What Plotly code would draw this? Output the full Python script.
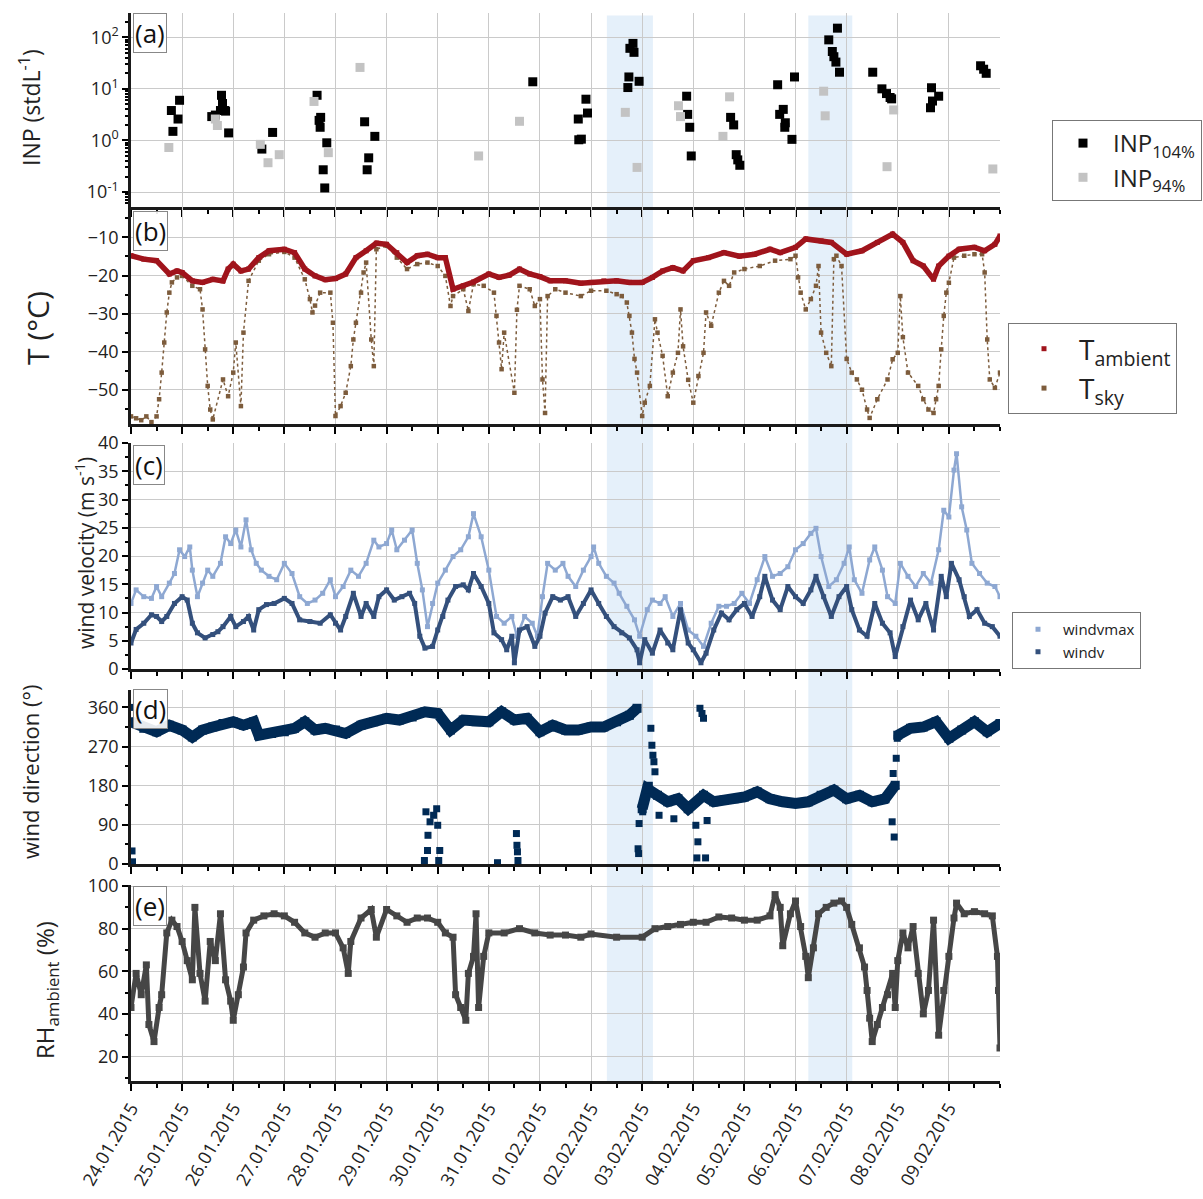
import pandas as pd
import plotly.graph_objects as go

# ---------------- data (time in days since 24.01.2015 00:00) ----------------
START = pd.Timestamp("2015-01-24")
tick_labels = ["24.01.2015", "25.01.2015", "26.01.2015", "27.01.2015", "28.01.2015",
               "29.01.2015", "30.01.2015", "31.01.2015", "01.02.2015", "02.02.2015",
               "03.02.2015", "04.02.2015", "05.02.2015", "06.02.2015", "07.02.2015",
               "08.02.2015", "09.02.2015"]

# shaded periods (days)
shade_start = [9.31, 13.25]
shade_end = [10.21, 14.11]

# (a) INP
inp104_day = [0.79, 0.82, 0.92, 0.95, 1.58, 1.65, 1.75, 1.77, 1.79, 1.83, 1.85, 1.91,
              2.56, 2.77, 3.64, 3.68, 3.71, 3.70, 3.83, 3.76, 3.79, 4.57, 4.77, 4.65, 4.62,
              7.86, 8.75, 8.76, 8.81, 8.90, 8.93,
              9.82, 9.76, 9.84, 9.74, 9.72, 9.94, 10.87, 10.89, 10.93, 10.96,
              11.73, 11.79, 11.84, 11.87, 11.91, 12.65, 12.98, 12.76, 12.69, 12.80, 12.79, 12.93,
              13.82, 13.65, 13.72, 13.75, 13.79, 13.86, 14.51, 14.69, 14.78, 14.85, 14.88,
              15.66, 15.80, 15.68, 15.64, 16.62, 16.68, 16.73]
inp104_val = [3.8, 1.5, 2.6, 6.0, 2.9, 3.1, 3.8, 7.5, 5.2, 3.8, 3.7, 1.4,
              0.68, 1.43, 7.5, 2.45, 2.8, 1.8, 0.9, 0.27, 0.12, 2.3, 1.2, 0.46, 0.27,
              13.7, 2.6, 1.03, 1.06, 6.3, 3.4,
              76, 61, 51, 17, 10.6, 14, 7.2, 3.2, 1.8, 0.5,
              2.8, 2.0, 0.53, 0.42, 0.33, 12, 17, 4.0, 3.2, 2.2, 1.8, 1.05,
              150, 89, 53, 42, 33, 21, 21, 10, 8.1, 6.8, 6.4,
              10.5, 7.2, 5.8, 4.3, 28, 24, 20]
inp94_day = [0.74, 1.65, 1.69, 2.53, 2.68, 2.90, 3.58, 3.86, 4.48, 6.80, 7.60,
             9.67, 9.90, 10.71, 10.75, 11.71, 11.58, 13.55, 13.58, 14.92, 14.79, 16.86]
inp94_val = [0.73, 2.6, 1.95, 0.84, 0.37, 0.53, 5.7, 0.58, 26, 0.50, 2.35,
             3.5, 0.30, 4.7, 2.9, 7.0, 1.2, 9.0, 3.0, 3.9, 0.31, 0.28]

# (b) temperatures
tamb_day = [0, 0.25, 0.5, 0.75, 0.9, 1.0, 1.2, 1.4, 1.6, 1.8, 1.9, 2.0, 2.15, 2.3, 2.5, 2.7,
            3.0, 3.2, 3.4, 3.6, 3.8, 4.0, 4.2, 4.4, 4.6, 4.8, 5.0, 5.2, 5.4, 5.6, 5.8, 6.0,
            6.15, 6.3, 6.5, 6.7, 7.0, 7.2, 7.4, 7.6, 7.8, 8.0, 8.2, 8.5, 8.8, 9.0, 9.25, 9.5,
            9.75, 10.0, 10.2, 10.4, 10.6, 10.8, 11.0, 11.3, 11.6, 11.9, 12.2, 12.5, 12.7,
            13.0, 13.2, 13.5, 13.7, 14.0, 14.3, 14.6, 14.9, 15.1, 15.3, 15.5, 15.7, 15.8,
            16.0, 16.2, 16.5, 16.7, 16.9, 17.0]
tamb_val = [-14.8, -15.7, -16.1, -19.6, -18.8, -19.2, -21.4, -21.8, -21.0, -21.4, -18.3, -17.0,
            -18.8, -18.3, -15.3, -13.5, -13.1, -14.0, -18.3, -20.1, -21.1, -20.8, -19.6, -15.3,
            -13.5, -11.5, -11.8, -14.0, -16.6, -14.8, -14.4, -15.3, -15.3, -23.6, -22.7, -21.7,
            -19.6, -20.5, -19.9, -18.3, -19.6, -20.3, -21.4, -21.4, -22.0, -21.8, -21.4, -21.4,
            -21.8, -21.8, -20.5, -18.8, -17.9, -18.8, -16.1, -15.3, -14.0, -14.9, -14.4, -13.1,
            -14.0, -12.6, -10.4, -10.9, -11.3, -14.4, -13.5, -11.3, -9.1, -11.3, -16.1, -17.5,
            -21.0, -17.5, -14.9, -13.1, -12.6, -13.5, -11.8, -9.6]
tsky_day = [0.0, 0.1, 0.2, 0.3, 0.4, 0.5, 0.55, 0.6, 0.65, 0.7, 0.75, 0.8, 0.9, 1.0, 1.2, 1.35,
            1.4, 1.45, 1.5, 1.55, 1.6, 1.8, 1.9, 2.0, 2.05, 2.15, 2.2, 2.3, 2.5, 2.7, 3.0, 3.2,
            3.4, 3.5, 3.55, 3.6, 3.7, 3.9, 3.95, 4.0, 4.1, 4.2, 4.3, 4.35, 4.4, 4.5, 4.55, 4.6,
            4.7, 4.75, 4.8, 5.0, 5.2, 5.4, 5.6, 5.8, 6.0, 6.15, 6.25, 6.3, 6.5, 6.6, 6.7, 6.9,
            7.1, 7.15, 7.2, 7.25, 7.3, 7.5, 7.55, 7.6, 7.8, 7.9, 8.0, 8.05, 8.1, 8.15, 8.3, 8.5,
            8.8, 9.0, 9.3, 9.5, 9.6, 9.7, 9.75, 9.8, 9.85, 9.9, 10.0, 10.05, 10.15, 10.25, 10.3,
            10.4, 10.5, 10.6, 10.7, 10.75, 10.8, 10.9, 11.0, 11.1, 11.2, 11.25, 11.35, 11.5,
            11.6, 11.7, 11.8, 12.0, 12.3, 12.6, 12.9, 13.0, 13.05, 13.1, 13.2, 13.3, 13.4,
            13.45, 13.5, 13.6, 13.7, 13.75, 13.8, 13.9, 14.0, 14.1, 14.2, 14.3, 14.4, 14.45,
            14.6, 14.8, 14.9, 15.0, 15.05, 15.1, 15.2, 15.4, 15.5, 15.6, 15.7, 15.75, 15.8,
            15.85, 15.9, 15.95, 16.0, 16.1, 16.3, 16.5, 16.65, 16.7, 16.75, 16.8, 16.9, 17.0]
tsky_val = [-57.0, -57.5, -58.0, -57.0, -58.5, -57.0, -52.5, -45.5, -37.6, -29.7, -24.5, -21.8,
            -20.5, -20.1, -22.7, -23.6, -28.9, -39.4, -49.0, -55.2, -57.8, -47.3, -51.7, -45.5,
            -37.6, -54.3, -35.0, -21.4, -16.1, -14.4, -13.8, -15.3, -21.0, -26.2, -29.7, -27.9,
            -24.5, -24.5, -32.4, -56.9, -54.3, -50.8, -43.8, -36.8, -32.4, -24.5, -19.2, -16.6,
            -36.8, -43.8, -13.1, -12.2, -15.3, -18.3, -17.0, -16.6, -17.5, -20.1, -28.0, -25.4,
            -23.6, -29.3, -22.3, -22.7, -24.5, -30.6, -37.6, -44.6, -35.0, -50.8, -29.0, -22.7,
            -23.6, -28.0, -26.2, -47.3, -56.1, -25.4, -23.6, -24.5, -25.4, -24.0, -24.0, -24.9,
            -25.4, -27.1, -30.6, -35.0, -41.9, -45.5, -56.9, -53.4, -49.0, -31.5, -35.0, -41.1,
            -51.7, -45.5, -40.3, -28.9, -38.6, -47.4, -53.4, -46.4, -40.3, -29.7, -33.2, -24.5,
            -21.4, -22.7, -19.2, -18.3, -17.5, -16.1, -15.7, -14.8, -20.5, -24.5, -28.9, -26.2,
            -22.7, -17.5, -35.0, -40.3, -43.8, -15.7, -14.8, -17.5, -41.9, -45.5, -47.3, -50.0,
            -55.2, -57.4, -52.5, -47.3, -42.0, -40.3, -25.4, -36.2, -45.5, -49.0, -52.5, -55.2,
            -56.1, -52.5, -49.0, -39.4, -30.6, -24.5, -21.9, -15.3, -14.8, -14.4, -14.4, -19.2,
            -36.8, -47.3, -49.5, -45.5]

# (c) wind velocity
windv_day = [0, 0.1, 0.25, 0.4, 0.5, 0.6, 0.7, 0.85, 1.0, 1.1, 1.2, 1.3, 1.45, 1.6, 1.7, 1.8,
             1.95, 2.05, 2.2, 2.3, 2.4, 2.5, 2.65, 2.8, 3.0, 3.15, 3.3, 3.5, 3.7, 3.9, 4.0, 4.1,
             4.2, 4.35, 4.5, 4.6, 4.75, 4.85, 5.0, 5.15, 5.3, 5.45, 5.55, 5.65, 5.75, 5.9, 6.0,
             6.1, 6.2, 6.35, 6.5, 6.6, 6.7, 6.85, 7.0, 7.1, 7.25, 7.35, 7.45, 7.5, 7.6, 7.75,
             7.9, 8.0, 8.1, 8.25, 8.4, 8.55, 8.7, 8.85, 9.0, 9.15, 9.3, 9.45, 9.6, 9.75, 9.9,
             9.95, 10.05, 10.2, 10.35, 10.5, 10.6, 10.75, 10.9, 11.0, 11.15, 11.25, 11.4, 11.55,
             11.7, 11.85, 12.0, 12.15, 12.3, 12.4, 12.55, 12.7, 12.85, 13.0, 13.15, 13.3, 13.4,
             13.55, 13.7, 13.85, 14.0, 14.1, 14.25, 14.4, 14.55, 14.7, 14.85, 14.95, 15.1,
             15.25, 15.4, 15.55, 15.7, 15.85, 15.95, 16.05, 16.2, 16.3, 16.4, 16.55, 16.7,
             16.85, 17.0]
windv_val = [4.6, 7.0, 8.1, 9.6, 9.3, 8.4, 9.3, 11.6, 12.8, 12.2, 8.1, 6.4, 5.5, 6.1, 6.6, 7.5,
             9.3, 7.5, 8.4, 9.3, 6.9, 10.5, 11.4, 11.6, 12.5, 11.6, 8.7, 8.4, 8.1, 9.6, 8.1, 6.9,
             9.3, 13.4, 9.3, 11.6, 9.3, 12.8, 14.0, 12.2, 12.8, 13.4, 11.6, 5.8, 3.7, 4.0, 6.9,
             9.3, 12.2, 14.6, 14.9, 14.0, 16.9, 14.6, 11.6, 6.4, 5.2, 3.4, 5.8, 1.1, 6.9, 7.5,
             4.0, 5.8, 9.9, 12.8, 12.2, 12.8, 9.3, 11.6, 14.0, 11.6, 9.3, 7.5, 6.4, 5.5, 3.4,
             1.1, 5.2, 2.8, 6.9, 4.6, 3.4, 10.5, 4.6, 3.4, 1.1, 2.8, 6.9, 9.9,
             8.7, 10.5, 11.6, 9.3, 12.8, 16.4, 12.2, 10.5, 14.6, 12.8, 11.6, 14.0, 16.4,
             12.8, 9.3, 12.8, 14.6, 10.5, 6.9, 5.8, 11.6, 8.1, 6.4, 2.2, 7.5,
             12.2, 8.7, 11.6, 6.9, 16.4, 12.8, 18.7, 15.8, 12.8, 9.3, 10.5, 8.1,
             7.5, 5.8]
windvmax_day = [0, 0.1, 0.25, 0.4, 0.5, 0.6, 0.75, 0.85, 0.95, 1.05, 1.15, 1.2, 1.3, 1.4, 1.5,
                1.6, 1.75, 1.85, 1.95, 2.05, 2.15, 2.25, 2.35, 2.45, 2.55, 2.7, 2.85, 3.0, 3.15,
                3.3, 3.45, 3.6, 3.75, 3.9, 4.0, 4.15, 4.3, 4.45, 4.6, 4.75, 4.85, 5.0, 5.1, 5.2,
                5.35, 5.5, 5.6, 5.7, 5.8, 5.9, 6.0, 6.15, 6.3, 6.45, 6.6, 6.7, 6.85, 7.0, 7.15,
                7.3, 7.45, 7.55, 7.7, 7.85, 7.95, 8.05, 8.15, 8.3, 8.45, 8.55, 8.7, 8.85, 9.0,
                9.05, 9.15, 9.3, 9.45, 9.55, 9.7, 9.85, 9.95, 10.1, 10.2, 10.35, 10.45, 10.6,
                10.75, 10.9, 11.05, 11.2, 11.35, 11.5, 11.65, 11.8, 11.95, 12.1, 12.25, 12.4,
                12.55, 12.7, 12.85, 13.0, 13.15, 13.3, 13.4, 13.5, 13.65, 13.8, 13.95, 14.05,
                14.15, 14.3, 14.45, 14.55, 14.7, 14.8, 14.95, 15.05, 15.2, 15.35, 15.5, 15.65,
                15.8, 15.9, 16.0, 16.1, 16.15, 16.25, 16.35, 16.45, 16.6, 16.75, 16.9, 17.0]
windvmax_val = [11.6, 14.0, 12.8, 12.5, 14.6, 12.8, 15.2, 16.9, 21.1, 19.9, 21.6, 17.5, 12.8,
                15.2, 17.5, 16.4, 18.7, 23.4, 22.2, 24.6, 21.6, 26.4, 21.1, 18.7, 17.5, 16.4,
                15.8, 18.7, 16.9, 12.8, 11.6, 12.2, 13.4, 15.8, 12.8, 14.6, 17.5, 16.4, 18.7,
                22.8, 21.6, 22.2, 24.6, 21.1, 22.8, 24.6, 18.7, 14.0, 7.5, 11.6, 15.2, 17.5,
                19.9, 21.1, 23.4, 27.5, 23.4, 17.5, 9.3, 8.1, 9.3, 5.8, 9.3, 8.1, 5.8, 12.8,
                18.7, 17.5, 18.7, 16.4, 14.6, 17.5, 19.9,
                21.6, 18.7, 16.4, 15.2, 13.4, 11.1, 8.7, 5.8, 10.5, 12.2, 11.6, 12.8, 9.3,
                11.6, 6.9, 5.8, 4.0, 8.1, 11.1, 11.1, 11.6, 13.4, 11.6, 15.8, 19.9,
                16.4, 16.9, 18.1, 21.1, 22.2, 24.0, 24.9, 19.9, 14.6, 15.8, 18.7, 21.6,
                15.8, 13.4, 19.3, 21.6, 17.5, 12.8, 11.6, 18.7, 16.4, 14.6, 16.9, 15.2,
                21.1, 28.1, 26.9, 35.2, 38.1, 28.7, 24.6, 18.7, 16.9, 15.2, 14.6, 12.8]

# (d) wind direction (None = gap between regimes)
wdir_day = [0.0, 0.25, 0.5, 0.75, 1.0, 1.2, 1.4, 1.6, 1.8, 2.0, 2.2, 2.4, 2.5, 2.75, 3.0, 3.2,
            3.4, 3.6, 3.8, 4.0, 4.2, 4.5, 4.75, 5.0, 5.25, 5.5, 5.75, 6.0, 6.25, 6.5, 6.75, 7.0,
            7.25, 7.5, 7.75, 8.0, 8.25, 8.5, 8.75, 9.0, 9.25, 9.5, 9.75, 9.9, None,
            10.0, 10.1, 10.3, 10.5, 10.7, 10.9, 11.2, 11.4, 11.6, 11.8, 12.0, 12.25, 12.5,
            12.75, 13.0, 13.25, 13.5, 13.75, 14.0, 14.25, 14.5, 14.75, 14.95, None,
            15.0, 15.25, 15.5, 15.75, 16.0, 16.25, 16.5, 16.75, 17.0]
wdir_val = [327, 312, 304, 319, 308, 292, 308, 315, 323, 327, 319, 327, 296, 300, 304, 312,
            327, 308, 312, 308, 300, 319, 327, 335, 331, 338, 350, 346, 308, 331, 327, 327,
            350, 331, 335, 304, 319, 308, 308, 315, 315, 327, 342, 358, None,
            127, 173, 158, 143, 150, 127, 158, 143, 147, 150, 154, 166, 150,
            143, 139, 143, 158, 170, 150, 158, 143, 150, 181, None,
            296, 312, 315, 327, 289, 308, 327, 304, 323]
wdir_out_day = [0.0, 0.02, 0.03, 5.74, 5.77, 5.81, 5.85, 5.92, 5.98, 6.0, 6.04, 5.80, 6.02,
                7.17, 7.54, 7.55, 7.56, 7.57, 9.94, 9.92, 9.93, 10.17, 10.19, 10.21, 10.23,
                10.25, 10.14, 10.01, 10.33, 10.62, 11.05, 11.09, 11.07, 11.24, 11.27, 11.13,
                11.17, 11.20, 14.91, 14.93, 14.97, 14.89, 14.99]
wdir_out_val = [360, 30, 5, 8, 120, 66, 97, 112, 127, 89, 31, 31, 8,
                3, 70, 43, 28, 8, 93, 35, 24, 312, 273, 250, 235,
                212, 181, 120, 112, 104, 89, 51, 14, 14, 100, 358,
                346, 335, 208, 62, 243, 97, 289]

# (e) relative humidity
rh_day = [0.0, 0.1, 0.2, 0.3, 0.35, 0.45, 0.55, 0.6, 0.7, 0.8, 0.9, 1.0, 1.1, 1.2, 1.25, 1.35,
          1.45, 1.55, 1.65, 1.75, 1.85, 1.95, 2.0, 2.1, 2.2, 2.25, 2.4, 2.6, 2.8, 3.0, 3.2, 3.4,
          3.6, 3.8, 4.0, 4.15, 4.25, 4.3, 4.5, 4.7, 4.8, 5.0, 5.2, 5.4, 5.6, 5.8, 6.0, 6.15,
          6.3, 6.35, 6.45, 6.55, 6.6, 6.7, 6.75, 6.8, 6.9, 7.0, 7.3, 7.6, 7.9, 8.2, 8.5, 8.8,
          9.0, 9.5, 10.0, 10.25, 10.5, 10.75, 11.0, 11.25, 11.5, 11.75, 12.0, 12.25, 12.5,
          12.6, 12.7, 12.75, 12.9, 13.0, 13.1, 13.2, 13.25, 13.35, 13.45, 13.6, 13.75, 13.9,
          14.0, 14.1, 14.25, 14.35, 14.4, 14.45, 14.5, 14.6, 14.7, 14.8, 14.9, 14.95, 15.0,
          15.1, 15.2, 15.3, 15.4, 15.5, 15.6, 15.7, 15.8, 15.9, 16.0, 16.1, 16.15, 16.3, 16.5,
          16.7, 16.85, 16.95, 16.97, 17.0]
rh_val = [43, 59, 49, 63, 35, 27, 43, 49, 78, 84, 81, 74, 65, 56, 90, 59,
          46, 74, 65, 87, 56, 46, 37, 49, 62, 78, 84, 86, 87, 86, 83, 78,
          76, 78, 78, 71, 59, 74, 85, 89, 76, 89, 86, 83, 85, 85, 83, 78,
          76, 49, 43, 37, 59, 67, 87, 43, 67, 78, 78, 80, 78, 77, 77, 76,
          77.5, 76, 76, 80, 81, 82, 83, 83, 85.5, 85, 84, 84, 86,
          96, 90, 72, 87, 93, 81, 67, 57, 71, 87, 90, 92, 93,
          90, 82, 71, 62, 51, 38, 27, 35, 43, 49, 59, 43, 65,
          78, 71, 81, 59, 40, 51, 84, 30, 51, 67, 85, 92, 87, 88,
          87, 86, 67, 51, 24]


def to_time(days):
    return [None if d is None else START + pd.Timedelta(days=d) for d in days]


tick_dates = [pd.to_datetime(t, format="%d.%m.%Y") for t in tick_labels]

# ---------------- layout geometry ----------------
W, H = 1203, 1199
XD = [131 / W, 1000 / W]


def ydom(top_px, bot_px):
    return [1 - bot_px / H, 1 - top_px / H]


doms = [ydom(13, 207), ydom(207, 424), ydom(443, 669), ydom(690, 864), ydom(885, 1081)]

FONT = "Open Sans, Noto Sans, sans-serif"
GRID = "#cacaca"
SQ = "square"

fig = go.Figure()

# (a)
fig.add_trace(go.Scatter(x=to_time(inp104_day), y=inp104_val, mode="markers",
                         marker=dict(symbol=SQ, size=9, color="black"),
                         name="INP<sub>104%</sub>", xaxis="x", yaxis="y", legend="legend"))
fig.add_trace(go.Scatter(x=to_time(inp94_day), y=inp94_val, mode="markers",
                         marker=dict(symbol=SQ, size=9, color="#c3c3c3"),
                         name="INP<sub>94%</sub>", xaxis="x", yaxis="y", legend="legend"))
# (b)
fig.add_trace(go.Scatter(x=to_time(tsky_day), y=tsky_val, mode="lines+markers",
                         line=dict(color="#7d5c3c", width=1.5, dash="dot"),
                         marker=dict(symbol=SQ, size=4.5, color="#7d5c3c"),
                         showlegend=False, xaxis="x2", yaxis="y2"))
fig.add_trace(go.Scatter(x=to_time(tamb_day), y=tamb_val, mode="lines+markers",
                         line=dict(color="#a0141c", width=5.5),
                         marker=dict(symbol=SQ, size=5, color="#a0141c"),
                         showlegend=False, xaxis="x2", yaxis="y2"))
fig.add_trace(go.Scatter(x=[None], y=[None], mode="markers",
                         marker=dict(symbol=SQ, size=5, color="#a0141c"),
                         name="T<sub>ambient</sub>", xaxis="x2", yaxis="y2", legend="legend2"))
fig.add_trace(go.Scatter(x=[None], y=[None], mode="markers",
                         marker=dict(symbol=SQ, size=5, color="#7d5c3c"),
                         name="T<sub>sky</sub>", xaxis="x2", yaxis="y2", legend="legend2"))
# (c)
fig.add_trace(go.Scatter(x=to_time(windvmax_day), y=windvmax_val, mode="lines+markers",
                         line=dict(color="#8ea8d2", width=2.5),
                         marker=dict(symbol=SQ, size=5, color="#8ea8d2"),
                         showlegend=False, xaxis="x3", yaxis="y3"))
fig.add_trace(go.Scatter(x=to_time(windv_day), y=windv_val, mode="lines+markers",
                         line=dict(color="#34507c", width=4),
                         marker=dict(symbol=SQ, size=5, color="#34507c"),
                         showlegend=False, xaxis="x3", yaxis="y3"))
fig.add_trace(go.Scatter(x=[None], y=[None], mode="markers",
                         marker=dict(symbol=SQ, size=5, color="#8ea8d2"),
                         name="windvmax", xaxis="x3", yaxis="y3", legend="legend3"))
fig.add_trace(go.Scatter(x=[None], y=[None], mode="markers",
                         marker=dict(symbol=SQ, size=5, color="#34507c"),
                         name="windv", xaxis="x3", yaxis="y3", legend="legend3"))
# (d)
fig.add_trace(go.Scatter(x=to_time(wdir_day), y=wdir_val, mode="lines+markers",
                         line=dict(color="#002a55", width=11),
                         marker=dict(symbol=SQ, size=9, color="#002a55"),
                         showlegend=False, xaxis="x4", yaxis="y4", connectgaps=False))
fig.add_trace(go.Scatter(x=to_time(wdir_out_day), y=wdir_out_val, mode="markers",
                         marker=dict(symbol=SQ, size=7, color="#002a55"),
                         showlegend=False, xaxis="x4", yaxis="y4"))
# (e)
fig.add_trace(go.Scatter(x=to_time(rh_day), y=rh_val, mode="lines+markers",
                         line=dict(color="#464646", width=5),
                         marker=dict(symbol=SQ, size=7, color="#464646"),
                         showlegend=False, xaxis="x5", yaxis="y5"))

xrange_ = [START, START + pd.Timedelta(days=17)]
minor_x = dict(ticks="outside", ticklen=4, tickwidth=1.5, tickcolor="black",
               dtick=43200000, tick0=START, showgrid=False)

layout = dict(width=W, height=H, margin=dict(l=0, r=0, t=0, b=0, autoexpand=False),
              paper_bgcolor="white", plot_bgcolor="white",
              font=dict(family=FONT, color="#222"))

ytitles = ["INP (stdL<sup>-1</sup>)", "T (°C)", "wind velocity (m s<sup>-1</sup>)",
           "wind direction (°)", "RH<sub>ambient</sub> (%)"]

for i in range(5):
    n = "" if i == 0 else str(i + 1)
    last = i == 4
    layout["xaxis" + n] = dict(
        type="date", domain=XD, range=xrange_, anchor="y" + n, automargin=False,
        tickmode="array", tickvals=tick_dates, ticktext=tick_labels,
        showticklabels=last, tickangle=-60, tickfont=dict(size=18, color="#222"),
        ticks="outside", ticklen=7, tickwidth=1.5, tickcolor="black",
        showline=True, linecolor="#1a1a1a", linewidth=2.5,
        showgrid=True, gridcolor=GRID, gridwidth=1, zeroline=False,
        minor=minor_x)

yfont = dict(size=18, color="#222")
layout["yaxis"] = dict(type="log", domain=doms[0], range=[-1.29, 2.47], anchor="x",
                       tickmode="array", tickvals=[0.1, 1, 10, 100],
                       ticktext=["10<sup>-1</sup>", "10<sup>0</sup>", "10<sup>1</sup>",
                                 "10<sup>2</sup>"],
                       minor=dict(ticks="outside", ticklen=3, tickcolor="black", dtick="D1",
                                  showgrid=False))
layout["yaxis2"] = dict(domain=doms[1], range=[-59, -2], anchor="x2",
                        tickmode="array", tickvals=[-50, -40, -30, -20, -10],
                        minor=dict(ticks="outside", ticklen=3, tickcolor="black", dtick=5,
                                   showgrid=False))
layout["yaxis3"] = dict(domain=doms[2], range=[0, 40], anchor="x3",
                        tickmode="linear", tick0=0, dtick=5,
                        minor=dict(ticks="outside", ticklen=3, tickcolor="black", dtick=2.5,
                                   showgrid=False))
layout["yaxis4"] = dict(domain=doms[3], range=[0, 400], anchor="x4",
                        tickmode="array", tickvals=[0, 90, 180, 270, 360],
                        minor=dict(ticks="outside", ticklen=3, tickcolor="black", dtick=45,
                                   showgrid=False))
layout["yaxis5"] = dict(domain=doms[4], range=[8.5, 100.5], anchor="x5",
                        tickmode="array", tickvals=[20, 40, 60, 80, 100],
                        minor=dict(ticks="outside", ticklen=3, tickcolor="black", dtick=10,
                                   showgrid=False))
for i in range(5):
    n = "" if i == 0 else str(i + 1)
    layout["yaxis" + n].update(
        automargin=False, ticks="outside", ticklen=6, tickwidth=1.5, tickcolor="black",
        showline=True, linecolor="#1a1a1a", linewidth=2.5, tickfont=yfont,
        showgrid=True, gridcolor=GRID, gridwidth=1, zeroline=False)

# legends
layout["legend"] = dict(x=1052 / W, y=1 - 120 / H, xanchor="left", yanchor="top",
                        bordercolor="#777", borderwidth=1, bgcolor="white",
                        font=dict(size=24, color="#222"), itemwidth=50, tracegroupgap=0)
layout["legend2"] = dict(x=1008 / W, y=1 - 323 / H, xanchor="left", yanchor="top",
                         bordercolor="#777", borderwidth=1, bgcolor="white",
                         font=dict(size=28, color="#222"), itemwidth=60, tracegroupgap=0)
layout["legend3"] = dict(x=1012 / W, y=1 - 612 / H, xanchor="left", yanchor="top",
                         bordercolor="#777", borderwidth=1, bgcolor="white",
                         font=dict(size=15, color="#222"), itemwidth=40, tracegroupgap=0)

# shaded periods
shapes = []
for s, e in zip(shade_start, shade_end):
    shapes.append(dict(type="rect", xref="x", yref="paper",
                       x0=START + pd.Timedelta(days=s), x1=START + pd.Timedelta(days=e),
                       y0=doms[4][0], y1=doms[0][1] - 0.002,
                       fillcolor="rgba(175,208,240,0.32)", line=dict(width=0), layer="below"))
layout["shapes"] = shapes

# annotations: panel labels and y titles
ann = []
panel_labels = ["(a)", "(b)", "(c)", "(d)", "(e)"]
label_tops = [13, 211, 445, 689, 886]
for lab, top in zip(panel_labels, label_tops):
    ann.append(dict(text=lab, xref="paper", yref="paper", x=133 / W, y=1 - top / H,
                    xanchor="left", yanchor="top", showarrow=False,
                    font=dict(size=26, color="#111"), bordercolor="#888", borderwidth=1,
                    borderpad=1, bgcolor="rgba(255,255,255,0.9)"))
title_pos = [(30, 108, 23), (38, 328, 30), (84, 553, 21), (30, 772, 22), (46, 990, 24)]
for t, (xp, yp, fs) in zip(ytitles, title_pos):
    ann.append(dict(text=t, xref="paper", yref="paper", x=xp / W, y=1 - yp / H,
                    xanchor="center", yanchor="middle", textangle=-90, showarrow=False,
                    font=dict(size=fs, color="#222")))
layout["annotations"] = ann

fig.update_layout(**layout)
fig.write_html("out.html")
